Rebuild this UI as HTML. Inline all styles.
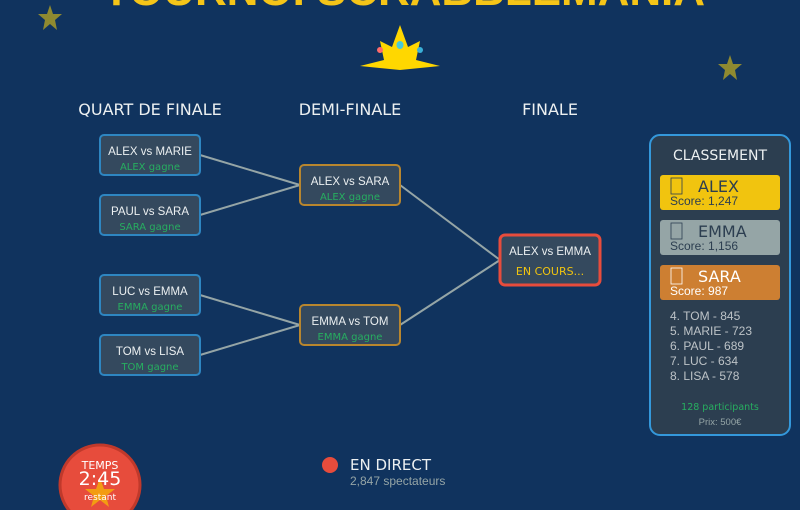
<!DOCTYPE html>
<html><head><meta charset="utf-8"><style>
html,body{margin:0;padding:0;background:#10335e;}
svg{display:block}
.h{font-family:"DejaVu Sans",sans-serif;font-size:16px;fill:#ecf0f1;text-anchor:middle}
.m{font-family:"Liberation Sans",sans-serif;font-size:11.5px;fill:#ecf0f1;text-anchor:middle}
.w{font-family:"DejaVu Sans",sans-serif;font-size:10px;fill:#27ae60;text-anchor:middle}
</style></head><body>
<svg width="800" height="510" viewBox="0 0 800 510" xmlns="http://www.w3.org/2000/svg">
<rect width="800" height="510" fill="#10335e"/>
<text x="404" y="5" font-family="Liberation Sans,sans-serif" font-weight="bold" font-size="44" fill="#f5c518" text-anchor="middle" textLength="602">TOURNOI SCRABBLEMANIA</text>
<polygon points="50,5 53,14 62,14 55,20 57,30 50,24 43,30 45,20 38,14 47,14" fill="#8f8a30"/>
<polygon points="730,55 733,64 742,64 735,70 737,80 730,74 723,80 725,70 718,64 727,64" fill="#8f8a30"/>
<polygon points="400,25 408,47 420,41 416,60 440,66 400,70 360,66 384,60 380,41 392,47" fill="#ffd700"/>
<ellipse cx="400" cy="45" rx="3.5" ry="4" fill="#48c9d8"/><circle cx="380" cy="50" r="3" fill="#ff6b6b"/><circle cx="420" cy="50" r="3" fill="#3ab0d8"/>
<text class="h" x="150" y="115">QUART DE FINALE</text>
<text class="h" x="350" y="115">DEMI-FINALE</text>
<text class="h" x="550" y="115">FINALE</text>
<g stroke="#95a5a6" stroke-width="2" fill="none">
<line x1="200" y1="155" x2="300" y2="185"/><line x1="200" y1="215" x2="300" y2="185"/>
<line x1="200" y1="295" x2="300" y2="325"/><line x1="200" y1="355" x2="300" y2="325"/>
<line x1="400" y1="185" x2="500" y2="260"/><line x1="400" y1="325" x2="500" y2="260"/>
</g>
<g fill="#34495e" stroke="#2e86c1" stroke-width="2">
<rect x="100" y="135" width="100" height="40" rx="4"/><rect x="100" y="195" width="100" height="40" rx="4"/>
<rect x="100" y="275" width="100" height="40" rx="4"/><rect x="100" y="335" width="100" height="40" rx="4"/>
</g>
<g fill="#34495e" stroke="#b8862e" stroke-width="2">
<rect x="300" y="165" width="100" height="40" rx="4"/><rect x="300" y="305" width="100" height="40" rx="4"/>
</g>
<rect x="500" y="235" width="100" height="50" rx="5" fill="#34495e" stroke="#e74c3c" stroke-width="3"/>
<text class="m" x="150" y="155">ALEX vs MARIE</text><text class="w" x="150" y="170">ALEX gagne</text>
<text class="m" x="150" y="215">PAUL vs SARA</text><text class="w" x="150" y="230">SARA gagne</text>
<text class="m" x="150" y="295">LUC vs EMMA</text><text class="w" x="150" y="310">EMMA gagne</text>
<text class="m" x="150" y="355">TOM vs LISA</text><text class="w" x="150" y="370">TOM gagne</text>
<text class="m" x="350" y="185">ALEX vs SARA</text><text class="w" x="350" y="200">ALEX gagne</text>
<text class="m" x="350" y="325">EMMA vs TOM</text><text class="w" x="350" y="340">EMMA gagne</text>
<text class="m" x="550" y="255">ALEX vs EMMA</text>
<text x="550" y="275" font-family="DejaVu Sans,sans-serif" font-size="11" fill="#f1c40f" text-anchor="middle">EN COURS...</text>
<rect x="650" y="135" width="140" height="300" rx="10" fill="#2c3e50" stroke="#3498db" stroke-width="2"/>
<text x="720" y="160" font-family="DejaVu Sans,sans-serif" font-size="14" fill="#ecf0f1" text-anchor="middle">CLASSEMENT</text>
<rect x="660" y="175" width="120" height="35" rx="3" fill="#f1c40f"/>
<rect x="660" y="220" width="120" height="35" rx="3" fill="#95a5a6"/>
<rect x="660" y="265" width="120" height="35" rx="3" fill="#cd7f32"/>
<g font-family="DejaVu Sans,sans-serif">
<rect x="671" y="178" width="11" height="16" fill="none" stroke="#2c3e50" stroke-width="0.8"/>
<text x="698" y="192" font-size="16" fill="#2c3e50">ALEX</text><text x="670" y="205" font-family="Liberation Sans,sans-serif" font-size="12" fill="#2c3e50">Score: 1,247</text>
<rect x="671" y="223" width="11" height="16" fill="none" stroke="#2c3e50" stroke-width="0.8"/>
<text x="698" y="237" font-size="16" fill="#2c3e50">EMMA</text><text x="670" y="250" font-family="Liberation Sans,sans-serif" font-size="12" fill="#2c3e50">Score: 1,156</text>
<rect x="671" y="268" width="11" height="16" fill="none" stroke="#fff" stroke-width="0.8"/>
<text x="698" y="282" font-size="16" fill="#fff">SARA</text><text x="670" y="295" font-family="Liberation Sans,sans-serif" font-size="12" fill="#fff">Score: 987</text>
</g>
<g font-family="Liberation Sans,sans-serif" font-size="12" fill="#bdc3c7">
<text x="670" y="320">4. TOM - 845</text><text x="670" y="335">5. MARIE - 723</text>
<text x="670" y="350">6. PAUL - 689</text><text x="670" y="365">7. LUC - 634</text>
<text x="670" y="380">8. LISA - 578</text>
</g>
<text x="720" y="410" font-family="DejaVu Sans,sans-serif" font-size="9.5" fill="#27ae60" text-anchor="middle">128 participants</text>
<text x="720" y="425" font-family="Liberation Sans,sans-serif" font-size="9.5" fill="#95a5a6" text-anchor="middle">Prix: 500€</text>
<circle cx="100" cy="485" r="40" fill="#e74c3c" stroke="#c0392b" stroke-width="3"/>
<polygon points="100,478 104,489 115,489 106,496 109,507 100,500 91,507 94,496 85,489 96,489" fill="#f39c12"/>
<text x="100" y="469" font-family="DejaVu Sans,sans-serif" font-size="11" fill="#fff" text-anchor="middle">TEMPS</text>
<text x="100" y="485" font-family="DejaVu Sans,sans-serif" font-size="19" fill="#fff" text-anchor="middle">2:45</text>
<text x="100" y="500" font-family="DejaVu Sans,sans-serif" font-size="9" fill="#fff" text-anchor="middle">restant</text>
<circle cx="330" cy="465" r="8" fill="#e74c3c"/>
<text x="350" y="470" font-family="DejaVu Sans,sans-serif" font-size="15" fill="#ecf0f1">EN DIRECT</text>
<text x="350" y="485" font-family="Liberation Sans,sans-serif" font-size="12" fill="#95a5a6">2,847 spectateurs</text>
</svg>
</body></html>
